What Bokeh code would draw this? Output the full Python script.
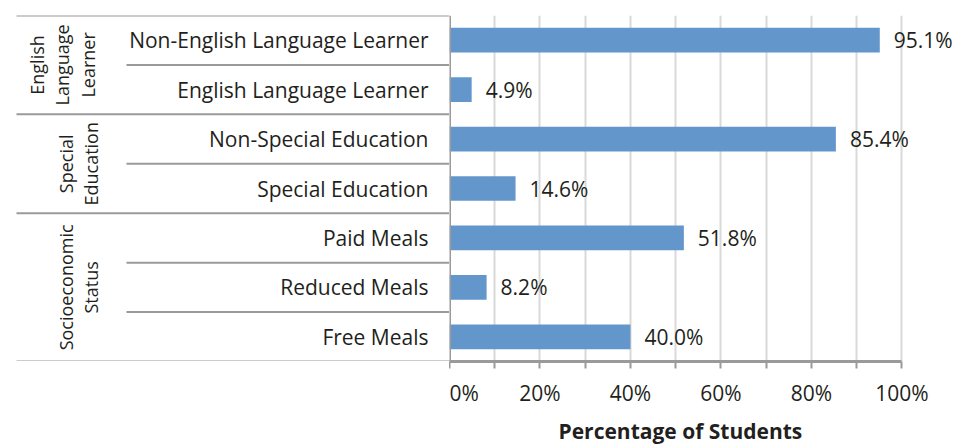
import math
from bokeh.plotting import figure
from bokeh.layouts import row
from bokeh.models import (ColumnDataSource, Range1d, FixedTicker, PrintfTickFormatter,
                          LabelSet, Span, Title)
from bokeh.core.properties import value
from bokeh.embed import file_html
from bokeh.resources import INLINE

# ---------------- data ----------------
groups = ["English\nLanguage\nLearner", "Special\nEducation", "Socioeconomic\nStatus"]
group_sizes = [2, 2, 3]
categories = ["Non-English Language Learner", "English Language Learner",
              "Non-Special Education", "Special Education",
              "Paid Meals", "Reduced Meals", "Free Meals"]
values = [95.1, 4.9, 85.4, 14.6, 51.8, 8.2, 40.0]
x_ticks = [0, 20, 40, 60, 80, 100]
x_minor_ticks = [10, 30, 50, 70, 90]
x_title = "Percentage of Students"

# ---------------- style ----------------
FONT = "Open Sans"
TXT = "#231f20"
BAR = "#6397cc"
AXIS = "#9a9a9a"
GRID = "#d9d9d9"
FS = "21px"
GFS = "18px"

n = len(categories)
ypos = [n - i - 0.5 for i in range(n)]
y_range = Range1d(0, n)

# group boundaries / separators
group_bounds = [n]
acc = 0
for s in group_sizes:
    acc += s
    group_bounds.append(n - acc)
inner_bounds = [n - k for k in range(1, n) if (n - k) not in group_bounds]
group_y = []
acc = 0
for s in group_sizes:
    group_y.append(n - (acc + s / 2))
    acc += s

# ---------------- left (labels) figure ----------------
L = figure(frame_width=441, frame_height=346, x_range=Range1d(-441, 0), y_range=y_range,
           output_backend="svg", toolbar_location=None,
           x_axis_location=None, y_axis_location=None,
           min_border_left=8, min_border_right=0, min_border_top=15, min_border_bottom=0)
L.outline_line_color = None
L.xgrid.visible = False
L.ygrid.visible = False

L.segment(x0=[-433] * len(group_bounds), x1=[0] * len(group_bounds),
          y0=group_bounds, y1=group_bounds, line_color=AXIS, line_width=2)
L.segment(x0=[-323] * len(inner_bounds), x1=[0] * len(inner_bounds),
          y0=inner_bounds, y1=inner_bounds, line_color=AXIS, line_width=2)

L.text(x=[-21] * n, y=ypos, text=categories, text_align="right", text_baseline="middle",
       text_font=value(FONT), text_font_size=FS, text_color=TXT)

gx = [-387, -371, -371]
L.text(x=gx, y=group_y, text=groups, angle=math.pi / 2, text_align="center",
       text_baseline="middle", text_font=value(FONT), text_font_size=GFS,
       text_color=TXT, text_line_height=1.05)

# ---------------- right (bars) figure ----------------
R = figure(frame_width=509, frame_height=346, x_range=Range1d(0, 112.5), y_range=y_range,
           output_backend="svg", toolbar_location=None, y_axis_location=None,
           min_border_left=0, min_border_right=0, min_border_top=15, min_border_bottom=0)
R.outline_line_color = None
R.ygrid.visible = False

ticker = FixedTicker(ticks=x_ticks, minor_ticks=x_minor_ticks)
R.xaxis.ticker = ticker
R.xaxis.formatter = PrintfTickFormatter(format="%d%%")
R.xaxis.bounds = (0, 100)
R.xaxis.axis_line_color = AXIS
R.xaxis.axis_line_width = 3
R.xaxis.major_tick_line_color = AXIS
R.xaxis.minor_tick_line_color = AXIS
R.xaxis.major_tick_line_width = 2
R.xaxis.minor_tick_line_width = 2
R.xaxis.major_tick_in = 0
R.xaxis.major_tick_out = 7
R.xaxis.minor_tick_in = 0
R.xaxis.minor_tick_out = 7
R.xaxis.major_label_standoff = 10
R.xaxis.major_label_text_font = FONT
R.xaxis.major_label_text_font_size = FS
R.xaxis.major_label_text_color = TXT

R.add_layout(Title(text=x_title, align="left", offset=109, standoff=11,
                   text_font=FONT, text_font_size=FS, text_font_style="bold",
                   text_color=TXT), "below")

R.xgrid.ticker = ticker
R.xgrid.grid_line_color = GRID
R.xgrid.grid_line_width = 2
R.xgrid.minor_grid_line_color = GRID
R.xgrid.minor_grid_line_width = 2

src = ColumnDataSource(dict(y=ypos, v=values, lab=[f"{v:.1f}%" for v in values]))
R.hbar(y="y", left=0, right="v", height=0.5, source=src, fill_color=BAR, line_color=None)

R.add_layout(LabelSet(x="v", y="y", text="lab", source=src, x_offset=14,
                      text_align="left", text_baseline="middle", text_font=value(FONT),
                      text_font_size=FS, text_color=TXT))
R.add_layout(Span(location=0, dimension="height", line_color=AXIS, line_width=3))

layout = row(L, R)
open("out.html", "w").write(file_html(layout, INLINE))
